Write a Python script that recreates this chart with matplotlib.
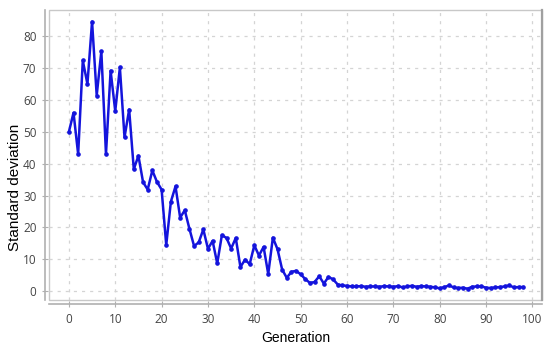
import numpy as np
import matplotlib.pyplot as plt
from matplotlib.patches import Rectangle

generation = list(range(99))
std_dev = [50, 56, 43, 72.4, 65, 84.6, 61.4, 75.3, 43, 69.2,
           56.5, 70.2, 48.3, 57, 38.3, 42.5, 34.2, 31.9, 37.9, 34.3,
           31.9, 14.5, 28.1, 32.9, 23.1, 25.4, 19.6, 14.2, 15.3, 19.4,
           13.3, 15.8, 8.7, 17.6, 16.7, 13.4, 16.7, 7.6, 9.9, 8.5,
           14.4, 11.2, 13.9, 5.4, 16.8, 13.2, 6.8, 4.2, 6.1, 6.4,
           5.3, 3.8, 2.6, 2.9, 4.7, 2.4, 4.5, 3.7, 2.1, 1.8,
           1.7, 1.5, 1.5, 1.6, 1.4, 1.5, 1.5, 1.4, 1.6, 1.5,
           1.4, 1.6, 1.2, 1.5, 1.7, 1.4, 1.6, 1.5, 1.4, 1.2,
           0.9, 1.3, 1.8, 1.2, 1.0, 1.1, 0.8, 1.4, 1.5, 1.5,
           1.1, 1.0, 1.2, 1.3, 1.5, 1.8, 1.2, 1.3, 1.3]

xticks = list(range(0, 101, 10))
yticks = list(range(0, 81, 10))

fig = plt.figure(figsize=(5.5, 3.49), dpi=100)
ax = fig.add_axes([0.089, 0.140, 0.896, 0.831])

ax.plot(generation, std_dev, color="#1414dc", lw=1.8, marker="o", ms=2.3)

ax.set_xlim(-4.3, 102)
ax.set_ylim(-2.8, 88.2)
ax.set_xticks(xticks)
ax.set_yticks(yticks)
ax.grid(True, color="#d4d4d4", ls=(0, (2.5, 4)), lw=0.9)
ax.set_axisbelow(True)

# inner box
ax.add_patch(Rectangle((0, 0), 1, 1, transform=ax.transAxes, fill=False,
                       ec="#c8c8c8", lw=1.0, clip_on=False, zorder=0))
ax.plot([1, 1], [0, 1], transform=ax.transAxes, color="#a0a0a0", lw=1.6,
        clip_on=False)

for s in ["top", "right"]:
    ax.spines[s].set_visible(False)
for s in ["left", "bottom"]:
    ax.spines[s].set_position(("outward", 3))
    ax.spines[s].set_color("#b0b0b0")
    ax.spines[s].set_linewidth(1.2)

ax.tick_params(direction="inout", length=5, width=0.8, color="#b0b0b0",
               labelcolor="#444444", labelsize=8.5)
for lab in ax.get_xticklabels() + ax.get_yticklabels():
    lab.set_fontfamily("Open Sans")

ax.set_xlabel("Generation", fontsize=10, family="Liberation Sans")
ax.set_ylabel("Standard deviation", fontsize=11, family="Liberation Sans")
ax.yaxis.set_label_coords(-0.055, 0.39)

fig.savefig("out.png", dpi=100)
